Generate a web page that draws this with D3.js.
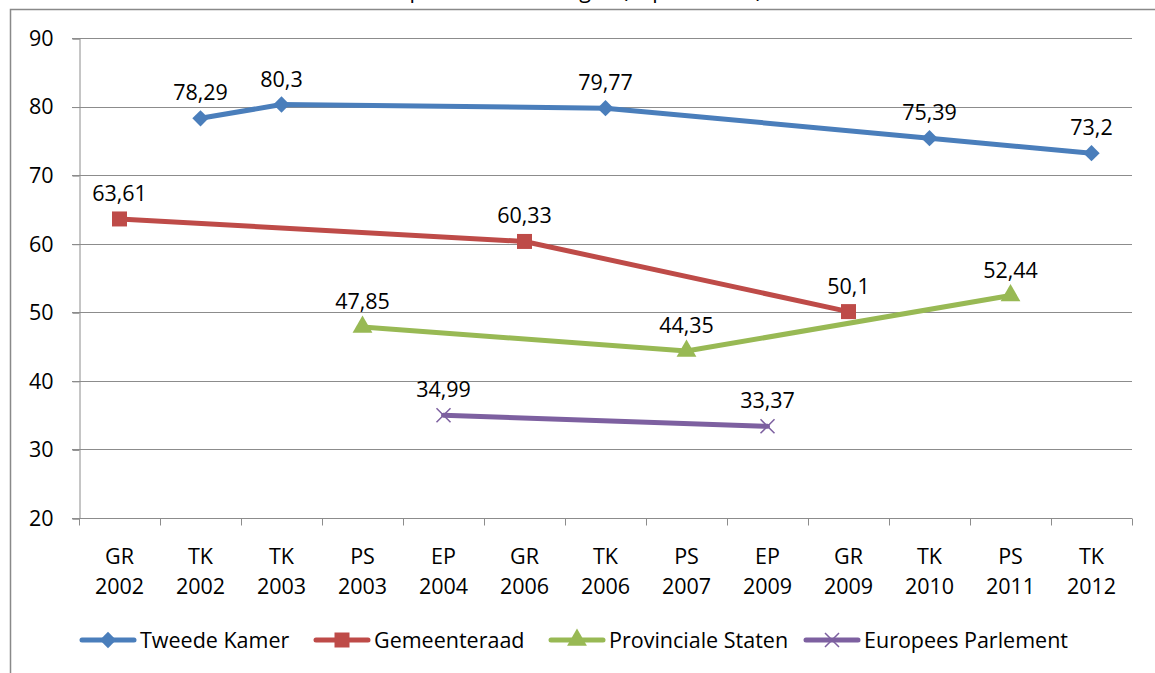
<!DOCTYPE html>
<html>
<head>
<meta charset="utf-8">
<script src="https://cdn.jsdelivr.net/npm/d3@7"></script>
<style>
  body { margin: 0; background: #fff; }
  text { font-family: "Open Sans", Lato, sans-serif; fill: #000; }
</style>
</head>
<body>
<div id="chart"></div>
<script>
const categories = [
  ["GR", "2002"], ["TK", "2002"], ["TK", "2003"], ["PS", "2003"], ["EP", "2004"],
  ["GR", "2006"], ["TK", "2006"], ["PS", "2007"], ["EP", "2009"], ["GR", "2009"],
  ["TK", "2010"], ["PS", "2011"], ["TK", "2012"]
];
const seriesNames = ["Tweede Kamer", "Gemeenteraad", "Provinciale Staten", "Europees Parlement"];
// null = geen verkiezing van dit type
const tweedeKamer = [null, 78.29, 80.3, null, null, null, 79.77, null, null, null, 75.39, null, 73.2];
const gemeenteraad = [63.61, null, null, null, null, 60.33, null, null, null, 50.1, null, null, null];
const provincialeStaten = [null, null, null, 47.85, null, null, null, 44.35, null, null, null, 52.44, null];
const europeesParlement = [null, null, null, null, 34.99, null, null, null, 33.37, null, null, null, null];
const yTicks = [20, 30, 40, 50, 60, 70, 80, 90];

const colors = ["#4A7EBB", "#BE4B48", "#98B954", "#7D60A0"];
const symbols = ["diamond", "square", "triangle", "x"];

const width = 1155;
const height = 673;
const margin = { top: 38, right: 23, bottom: 155, left: 79 };
const fontSize = "21.5px";

const svg = d3.select("#chart").append("svg")
  .attr("width", width)
  .attr("height", height);

// chart frame (cut off at right and bottom)
svg.append("path")
  .attr("d", `M10.5,${height + 2}V9.5H${width + 2}`)
  .attr("fill", "none")
  .attr("stroke", "#898989")
  .attr("stroke-width", 1.5);

// title, mostly outside the picture
svg.append("text")
  .attr("x", 762)
  .attr("y", -2)
  .attr("text-anchor", "end")
  .style("font-size", fontSize)
  .text("Opkomst verkiezingen (in procenten)");

const x = d3.scaleBand()
  .domain(d3.range(categories.length))
  .range([margin.left, width - margin.right]);

const y = d3.scaleLinear()
  .domain([20, 90])
  .range([height - margin.bottom, margin.top]);

// gridlines
svg.append("g")
  .selectAll("line")
  .data(yTicks.slice(1))
  .enter()
  .append("line")
  .attr("x1", margin.left - 7)
  .attr("x2", width - margin.right)
  .attr("y1", (d) => Math.round(y(d)) + 0.5)
  .attr("y2", (d) => Math.round(y(d)) + 0.5)
  .attr("stroke", "#8c8c8c");

// y axis
const yAxis = svg.append("g")
  .attr("transform", `translate(${margin.left + 0.5}, 0.5)`)
  .call(d3.axisLeft(y).tickValues(yTicks).tickSize(7).tickPadding(19));
yAxis.selectAll("line, path").attr("stroke", "#8c8c8c");
yAxis.selectAll("text").style("font-size", fontSize).attr("font-family", null);

// x axis
const xAxisY = Math.round(y(20)) + 0.5;
const xg = svg.append("g");
xg.append("line")
  .attr("x1", margin.left - 7)
  .attr("x2", width - margin.right)
  .attr("y1", xAxisY)
  .attr("y2", xAxisY)
  .attr("stroke", "#8c8c8c");
xg.selectAll("line.tick")
  .data(d3.range(categories.length + 1))
  .enter()
  .append("line")
  .attr("class", "tick")
  .attr("x1", (d) => Math.round(margin.left + d * x.step()) + 0.5)
  .attr("x2", (d) => Math.round(margin.left + d * x.step()) + 0.5)
  .attr("y1", xAxisY)
  .attr("y2", xAxisY + 7)
  .attr("stroke", "#8c8c8c");
const xl = xg.selectAll("text.cat")
  .data(categories)
  .enter()
  .append("text")
  .attr("class", "cat")
  .attr("text-anchor", "middle")
  .style("font-size", fontSize)
  .attr("x", (d, i) => x(i) + x.bandwidth() / 2);
xl.append("tspan")
  .attr("x", (d, i) => x(i) + x.bandwidth() / 2)
  .attr("y", xAxisY + 45)
  .text((d) => d[0]);
xl.append("tspan")
  .attr("x", (d, i) => x(i) + x.bandwidth() / 2)
  .attr("y", xAxisY + 75)
  .text((d) => d[1]);

function markerPath(type) {
  if (type === "diamond") return d3.symbol(d3.symbolDiamond2, 170)();
  if (type === "square") return d3.symbol(d3.symbolSquare, 225)();
  if (type === "triangle") return d3.symbol(d3.symbolTriangle, 170)();
  return d3.symbol(d3.symbolX, 130)();
}

const series = [tweedeKamer, gemeenteraad, provincialeStaten, europeesParlement];
const cx = (i) => x(i) + x.bandwidth() / 2;

const line = d3.line()
  .x((d) => cx(d.i))
  .y((d) => y(d.v));

series.forEach((vals, s) => {
  const pts = vals.map((v, i) => ({ i, v })).filter((d) => d.v !== null);
  const g = svg.append("g");
  g.append("path")
    .datum(pts)
    .attr("d", line)
    .attr("fill", "none")
    .attr("stroke", colors[s])
    .attr("stroke-width", 5)
    .attr("stroke-linejoin", "round")
    .attr("stroke-linecap", "round");
  g.selectAll("path.m")
    .data(pts)
    .enter()
    .append("path")
    .attr("class", "m")
    .attr("transform", (d) => `translate(${cx(d.i)},${y(d.v)})`)
    .attr("d", markerPath(symbols[s]))
    .attr("fill", symbols[s] === "x" ? "none" : colors[s])
    .attr("stroke", colors[s])
    .attr("stroke-width", symbols[s] === "x" ? 1.5 : 0);
  g.selectAll("text")
    .data(pts)
    .enter()
    .append("text")
    .attr("x", (d) => cx(d.i))
    .attr("y", (d) => y(d.v) - 18)
    .attr("text-anchor", "middle")
    .style("font-size", fontSize)
    .text((d) => String(d.v).replace(".", ","));
});

// legend
const legendX = [82, 316, 551, 806];
const legendY = 640;
const lg = svg.append("g")
  .selectAll("g")
  .data(seriesNames)
  .enter()
  .append("g")
  .attr("transform", (d, i) => `translate(${legendX[i]},${legendY})`);
lg.append("line")
  .attr("x1", 0)
  .attr("x2", 52)
  .attr("stroke", (d, i) => colors[i])
  .attr("stroke-width", 5)
  .attr("stroke-linecap", "round");
lg.append("path")
  .attr("transform", "translate(26,0)")
  .attr("d", (d, i) => markerPath(symbols[i]))
  .attr("fill", (d, i) => (symbols[i] === "x" ? "none" : colors[i]))
  .attr("stroke", (d, i) => colors[i])
  .attr("stroke-width", (d, i) => (symbols[i] === "x" ? 1.5 : 0));
lg.append("text")
  .attr("x", 58)
  .attr("y", 8)
  .style("font-size", fontSize)
  .text((d) => d);
</script>
</body>
</html>
